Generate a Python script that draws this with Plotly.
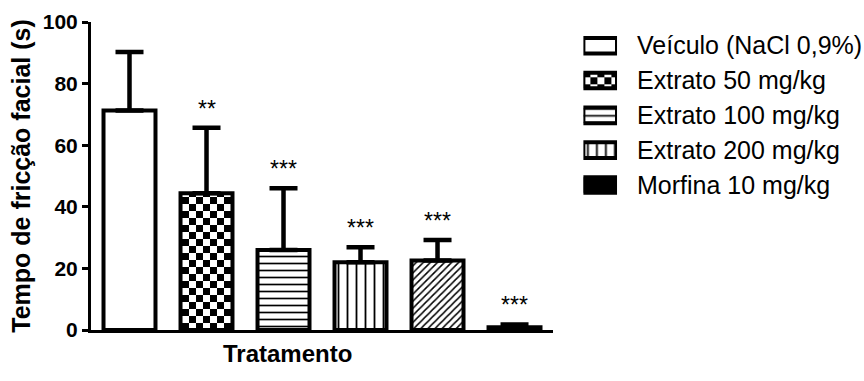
import plotly.graph_objects as go

# ---- data ----
groups = [0, 1, 2, 3, 4, 5]
means = [71.3, 44.4, 26.0, 22.0, 22.6, 0.9]
sds = [19.0, 21.3, 20.0, 4.9, 6.6, 0.9]
stars = ["", "**", "***", "***", "***", "***"]
legend_names = ["Veículo (NaCl 0,9%)", "Extrato 50 mg/kg", "Extrato 100 mg/kg",
                "Extrato 200 mg/kg", "Morfina 10 mg/kg"]
legend_of_group = [0, 1, 2, 3, None, 4]   # bar 5 has no legend entry
y_ticks = [0, 20, 40, 60, 80, 100]

FONT = "Arial, 'Liberation Sans', sans-serif"
CHECKER = "M0,0H7V7H0ZM7,7H14V14H7Z"

# pattern style for each bar
styles = [
    dict(color="white", pattern=dict(shape="")),
    dict(color="white", pattern=dict(path=CHECKER, size=14, fgcolor="black",
                                     bgcolor="white", fillmode="overlay", fgopacity=1)),
    dict(color="white", pattern=dict(shape="-", size=7, solidity=0.24,
                                     fgcolor="black", fillmode="overlay", fgopacity=1)),
    dict(color="white", pattern=dict(shape="|", size=9, solidity=0.2,
                                     fgcolor="black", fillmode="overlay", fgopacity=1)),
    dict(color="white", pattern=dict(shape="/", size=5, solidity=0.3,
                                     fgcolor="black", fillmode="overlay", fgopacity=1)),
    dict(color="black", pattern=dict(shape="")),
]

fig = go.Figure()
for i, g in enumerate(groups):
    st = styles[i]
    fig.add_trace(go.Bar(
        x=[g], y=[means[i]],
        marker=dict(color=st["color"], line=dict(color="black", width=4),
                    pattern=st["pattern"]),
        error_y=dict(type="data", array=[sds[i]], arrayminus=[0], symmetric=False,
                     color="black", thickness=4.5, width=14),
        showlegend=False, xaxis="x", yaxis="y",
    ))

# legend drawn as small horizontal bars on its own axes
for i, g in enumerate(groups):
    li = legend_of_group[i]
    if li is None:
        continue
    st = styles[i]
    fig.add_trace(go.Bar(
        x=[1], y=[legend_names[li]], orientation="h", width=0.45,
        marker=dict(color=st["color"], line=dict(color="black", width=4),
                    pattern=st["pattern"]),
        showlegend=False, xaxis="x2", yaxis="y2", hoverinfo="skip",
    ))

for i, g in enumerate(groups):
    if stars[i]:
        fig.add_annotation(x=g, y=means[i] + sds[i], text=stars[i], showarrow=False,
                           xref="x", yref="y", yanchor="bottom", yshift=4,
                           font=dict(size=23, color="black", family=FONT))

# x-axis title (placed slightly left of the axis centre, as in the original)
fig.add_annotation(x=0.2536, y=-0.075, xref="paper", yref="paper",
                   text="Tratamento", showarrow=False, xanchor="center", yanchor="middle",
                   font=dict(size=24, weight="bold", family=FONT, color="black"))

fig.update_layout(
    width=864, height=381,
    margin=dict(l=91, r=0, t=22, b=51),
    paper_bgcolor="white", plot_bgcolor="white",
    font=dict(family=FONT, color="black"),
    barmode="overlay", bargap=0.325,
    xaxis=dict(domain=[0, 0.5977], range=[-0.5, 5.5], showticklabels=False,
               ticks="", showgrid=False, zeroline=False, showline=True,
               linecolor="black", linewidth=3),
    yaxis=dict(range=[0, 100], tickvals=y_ticks, showgrid=False, zeroline=False,
               showline=True, linecolor="black", linewidth=3, ticks="outside",
               ticklen=6, tickwidth=3, tickcolor="black",
               tickfont=dict(size=21, weight="bold", family=FONT),
               title=dict(text="Tempo de fricção facial (s)", standoff=6,
                          font=dict(size=25, weight="bold", family=FONT))),
    xaxis2=dict(domain=[0.637, 0.6805], range=[0, 1], anchor="y2", visible=False),
    yaxis2=dict(domain=[0.4143, 0.9795], anchor="x2", side="right",
                type="category", categoryorder="array", categoryarray=legend_names,
                autorange="reversed", showgrid=False, zeroline=False, showline=False,
                ticks="", ticklabelstandoff=19,
                tickfont=dict(size=25, family=FONT, color="black")),
)

fig.write_html("out.html")
